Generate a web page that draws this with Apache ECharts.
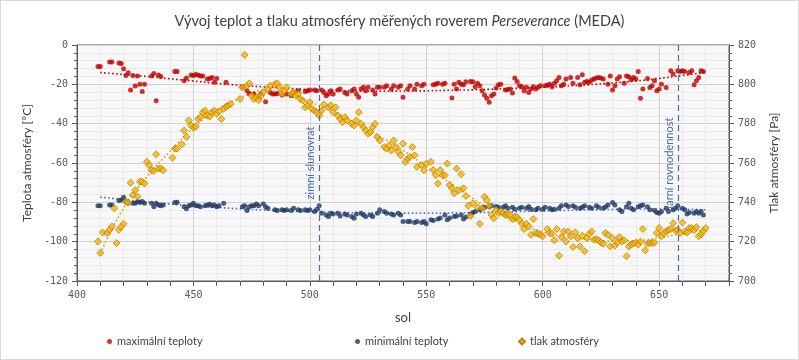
<!DOCTYPE html>
<html><head><meta charset="utf-8">
<script src="https://cdn.jsdelivr.net/npm/echarts@6/dist/echarts.min.js"></script>
<style>html,body{margin:0;padding:0;background:#fff}#c{width:799px;height:360px;box-sizing:border-box;border:1px solid #d9d9d9}</style>
</head><body><div id="c"></div>
<script>
const maxTemps=[[409,-10.9],[410,-10.9],[414,-8.6],[415,-8.6],[418,-9.1],[419,-9.4],[420,-12.1],[421,-15.5],[422,-14.1],[423,-22.9],[424,-15.5],[425,-20.9],[426,-15.7],[427,-19.9],[428,-23.6],[429,-19.9],[432,-15.7],[433,-14.5],[434,-28.4],[435,-15.3],[436,-16],[442,-13.5],[443,-13.5],[446,-18.2],[447,-16.8],[449,-15.2],[450,-15.5],[451,-15],[452,-15.3],[453,-15.7],[454,-15.8],[456,-17.3],[457,-17],[458,-16.5],[459,-19],[460,-17],[464,-19],
[471,-21.5],[473,-23.2],[474,-24.6],[476,-24.9],[478,-26.6],[479,-24.6],[481,-28.8],[483,-24.1],[484,-24.9],[485,-24.9],[486,-24.6],[488,-25.4],[490,-24.9],[492,-25.8],[493,-24.1],[495,-23.2],[498,-23.6],[499,-23.2],[500,-22.9],[502,-22.9],[503,-23.2],[505,-22.9],[506,-24.1],[507,-25.8],[508,-24.9],[509,-23.2],[510,-24.9],[512,-22.9],[513,-22.4],[515,-24.1],[516,-24.9],[518,-23.2],[519,-22.4],[520,-24.9],[521,-26.6],[522,-22.4],[523,-21.5],[524,-23.2],[525,-21.5],[527,-22.9],[528,-24.9],[529,-21.5],[530,-21.5],[532,-21.5],[533,-20.7],[535,-22.4],[536,-20.7],[538,-21.5],[539,-20.7],[540,-26.6],[542,-22.4],[543,-20.7],[545,-22.4],[546,-19.9],[548,-20.7],[549,-19.9],
[553,-20.2],[554,-19.9],[555,-19.5],[557,-19.9],[558,-19.5],[561,-26.9],[562,-19.9],[563,-22.4],[564,-19],[565,-19.9],[566,-20.2],[567,-18.7],[569,-18.5],[570,-18.7],[571,-21.2],[572,-19.4],[573,-20.7],[574,-23.2],[575,-25.4],[576,-27.1],[577,-29.1],[578,-25.8],[579,-24.9],[580,-21.9],[581,-20.2],[582,-19.9],[584,-22.9],[585,-22.6],[586,-22.4],[587,-24.4],[588,-16.8],[589,-18.5],[590,-20.7],[591,-21.2],[592,-23.2],[593,-21.5],[594,-24.1],[595,-22.4],[596,-21.2],[597,-22.4],[598,-21.5],[599,-20.7],[601,-20.7],[602,-20.4],[603,-19.9],[604,-21.2],[605,-19.5],[606,-18.2],[607,-16.5],[608,-20.7],[609,-19.9],[610,-17.3],[612,-16.5],[613,-19.5],[615,-16.5],[616,-20.2],[617,-15.1],[618,-19],[619,-18.5],[620,-19],[621,-17.8],[622,-17.3],[623,-16.8],[624,-16.5],[625,-16.8],[626,-17.3],[628,-19.9],[629,-15.7],[630,-22.9],[631,-20.7],[632,-17.3],[633,-16.2],[635,-19.5],[636,-15.7],[637,-16.2],[638,-17.7],[639,-16.5],[640,-17.3],[641,-13.5],[642,-27.1],[643,-22.4],[645,-17],[646,-21.6],[647,-20.7],[648,-18.2],[649,-23.2],[650,-22.4],[651,-19.9],[653,-21.6],[655,-13.1],[656,-14.8],[658,-13.1],[659,-13.5],[660,-13.1],[661,-13.5],[663,-14],[664,-13.1],[665,-20.2],[666,-18.2],[667,-16.5],[668,-13.1],[669,-13.5]];

const minTemps=[[409,-81.8],[410,-81.8],[414,-81.3],[415,-81.3],[418,-79.1],[419,-78.8],[420,-77.4],[421,-79.6],[422,-80.1],[424,-80.5],[425,-80.5],[426,-79.6],[427,-80.1],[428,-79.6],[429,-80.5],[432,-80.5],[433,-82.2],[434,-80.5],[435,-81.3],[436,-81.8],[437,-81.3],[442,-80.1],[443,-80],[446,-82.2],[447,-83.3],[448,-81.8],[449,-81.3],[450,-80.5],[451,-81.7],[452,-81.7],[453,-82.2],[455,-81.8],[456,-81.3],[457,-81],[458,-81.7],[459,-81.3],[460,-82.2],[461,-81.8],[463,-80.5],
[471,-82.2],[472,-81.8],[473,-84.2],[474,-82.2],[475,-81.8],[476,-81.8],[477,-80.8],[478,-81.8],[480,-80.8],[481,-82.2],[482,-83],[485,-83.8],[486,-84.2],[488,-83.8],[489,-84.2],[490,-83.8],[492,-84.2],[493,-83],[495,-83.8],[496,-84.2],[498,-83.8],[499,-84.2],[500,-83.8],[502,-84.7],[503,-83.5],[504,-81.8],[505,-85.5],[507,-86.4],[508,-87.2],[509,-85.5],[510,-85.9],[512,-85.5],[513,-86.9],[515,-85.9],[516,-86.4],[518,-87.2],[519,-88.1],[520,-85.9],[522,-85.5],[523,-86.4],[524,-87.2],[526,-86.4],[527,-87.2],[529,-85.5],[530,-83.8],[532,-84.7],[533,-85.5],[535,-85.9],[536,-86.4],[538,-85.5],[539,-86.4],[540,-89.7],[542,-89.7],[543,-89.7],[545,-90.2],[546,-89.7],[548,-90.2],[549,-89.7],[550,-90.9],
[552,-88.9],[553,-89.2],[555,-88.5],[556,-88],[558,-86.4],[559,-88.9],[560,-88],[562,-87.2],[563,-86.9],[565,-86.4],[566,-88.5],[567,-87.5],[569,-86],[570,-85.2],[571,-84.7],[573,-83.8],[574,-83],[575,-82.5],[577,-82.1],[578,-81.8],[580,-82.1],[581,-82.5],[583,-82.5],[584,-81.8],[585,-83],[587,-82.5],[588,-83.5],[590,-83],[591,-82.5],[593,-83],[594,-82.1],[595,-83.5],[597,-83.8],[598,-83],[600,-83.5],[601,-82.5],[603,-83],[604,-83.8],[605,-83.5],[607,-83],[608,-81.8],[610,-81.3],[611,-82.1],[613,-81.8],[614,-82.5],[616,-83],[617,-82.5],[618,-81.8],[620,-82.5],[621,-83],[623,-81.8],[624,-82.5],
[626,-83],[627,-82.2],[628,-81.3],[630,-80.1],[631,-81.3],[633,-83.8],[634,-84.7],[636,-82.2],[637,-80.5],[638,-83],[639,-83.8],[641,-82.2],[642,-81.8],[643,-81.3],[645,-82.2],[646,-83.8],[648,-84.2],[649,-85.2],[650,-85.5],[651,-84.7],[653,-83],[654,-84.7],[656,-83.8],[657,-83],[658,-81.8],[660,-83],[661,-83.8],[662,-85.9],[663,-85.2],[665,-85.5],[666,-84.7],[667,-85.5],[668,-84.7],[669,-86.4]];

const pressure=[[409,720.1],[410,714.3],[411,724.7],[413,724.4],[414,726],[415,727.7],[416,737],[417,719.3],[418,726],[419,727.7],[420,729.1],[421,740.4],[422,739.8],[423,749.9],[424,743.7],[425,746.2],[426,742.9],[427,750.5],[428,750.5],[429,749.6],[430,760.6],[431,758.9],[432,756.3],[433,756],[434,764.4],[435,757.2],[436,757.2],[437,756.3],[441,762.7],[442,767.3],[443,767.3],[445,769.5],[446,776.5],[447,773.2],[448,781.6],[449,779.1],[450,777.9],[451,778.6],[452,782.4],[453,783.3],[454,785.8],[455,786.6],[456,784.1],[457,783.6],[458,785.8],[459,786.6],[460,785],[461,786.3],[462,782.4],[463,787.5],[464,788.7],[465,789.2],[466,790],[470,792.5],[471,798.4],[472,814.9],[473,799.3],[474,800.5],[475,794.2],[476,792.5],[477,793.4],[478,792],[479,794.2],[480,796],
[482,797.6],[483,799.3],[485,800.1],[486,800.5],[487,798.4],[488,795.1],[489,796.7],[490,798.4],[492,795.1],[493,795.9],[494,794.2],[495,795.1],[496,792.5],[497,791.7],[498,788.3],[499,789.2],[500,790.9],[501,787.5],[502,786.6],[503,785.8],[504,784.1],[505,786.6],[506,789.7],[508,788.3],[509,789.2],[510,785.8],[511,788.3],[512,784.1],[513,782.4],[514,780.8],[515,783.3],[516,781.6],[518,779.9],[519,779.1],[520,781.6],[521,785.8],[522,779.9],[523,778.2],[524,776.5],[525,774.9],[526,775.7],[527,778.2],[528,779.9],[529,773.2],[530,771.5],[532,768.1],[533,767.3],[534,769],[535,766.4],[536,771.5],[537,768.1],[538,765.6],[539,763.9],[540,769.8],[541,760.6],[542,762.2],[543,763.1],[544,768.1],[545,763.9],[546,758],[548,758.9],[549,756.3],[550,759.7],
[552,760.6],[553,756.4],[554,753.8],[555,749.6],[556,756.4],[557,753.8],[558,753.8],[559,759.7],[560,748.8],[561,747.1],[562,744.6],[563,757.2],[564,746.2],[565,754.3],[566,747.1],[567,743.2],[568,738.2],[569,733.1],[570,739.5],[572,737.5],[573,729.1],[574,737],[575,742.9],[576,741.2],[577,738.2],[578,733.6],[579,731.9],[580,736.1],[581,734.5],[582,735.3],[583,734.5],[584,733.6],[585,734.1],[586,733.6],[587,731.4],[588,732.8],[589,732.4],[590,731.1],[591,729.1],[592,726.4],[593,729.1],[594,727.7],[595,723.5],[596,731.4],[597,724.4],[598,724],[599,723.5],[600,722.7],[602,726.4],[603,724.4],[604,724],[605,720.7],[606,726.4],[607,712.9],[608,722.3],[609,725.2],[610,720.1],[611,725.2],[612,722.7],[613,717.3],[614,724.7],[615,721.8],[616,717.6],[617,723],[618,715.1],[619,721.8],[620,724],[621,725.2],[622,721],[623,721.3],[624,720.7],[625,719.6],[626,719],[627,724.4],[628,723.5],[629,717.6],[630,721.8],[631,718],[632,719.6],[633,722.3],[634,720.1],[635,720.7],[636,712.6],[637,717.6],[638,718.5],
[639,719],[640,719.6],[641,718.5],[642,720.1],[643,726.4],[644,715.6],[645,719],[646,719.3],[647,719.3],[648,719.6],[649,724.4],[650,726.9],[651,722.7],[652,724.4],[653,725.2],[654,726],[655,726.4],[656,729.4],[657,725.7],[658,726],[659,724.4],[660,729.7],[661,725.2],[662,724.7],[663,726.9],[664,726.9],[665,726],[666,727.4],[667,722.7],[668,723.7],[669,725.4],[670,726.9]];

const trendSols=[410,420,430,440,450,460,470,480,490,500,510,520,530,540,550,560,570,580,590,600,610,620,630,640,650,660,670];
const maxTrend=[-14,-15,-16,-17.2,-18.3,-19.5,-20.5,-21.3,-22,-22.7,-23.2,-23.4,-23.5,-23.4,-23.3,-23,-22.8,-22.4,-22,-21.5,-20.9,-20.2,-19.3,-18.3,-17,-15.5,-13.8];
const minTrend=[-77.3,-78.6,-79.8,-80.9,-81.8,-82.6,-83.3,-83.9,-84.4,-84.8,-85.1,-85.3,-85.5,-85.5,-85.5,-85.4,-85.2,-85,-84.7,-84.4,-84.1,-83.8,-83.6,-83.4,-83.4,-83.5,-83.8];
const presTrend=[714,737,753,766,778,787,793,797,795.5,791,786,780,773.5,766.5,758,750,742,735,729.5,725,722.5,721,720.3,720.5,722,724,726];

const seasonSols=[504,658];
const seasonLabels=['zimní slunovrat','jarní rovnodennost'];
const seriesNames=['maximální teploty','minimální teploty','tlak atmosféry'];

const zip=(xs,ys)=>xs.map((x,i)=>[x,ys[i]]);
const txt='#404040', lab='#595959', FONT='Lato';
const chart=echarts.init(document.getElementById('c'),null,{renderer:'canvas'});
const yCommon={
  axisLine:{show:true,lineStyle:{color:'#595959',width:1}},
  axisTick:{show:true,length:5,lineStyle:{color:'#595959'}},
  minorTick:{show:true,splitNumber:5,length:3,lineStyle:{color:'#595959'}},
  axisLabel:{fontFamily:'DejaVu Sans Mono',fontSize:10,color:lab,margin:9},
  nameLocation:'middle',
  nameTextStyle:{fontFamily:FONT,fontSize:12,color:txt}
};
chart.setOption({
  animation:false,
  title:{left:'center',top:8,text:'{a|Vývoj teplot a tlaku atmosféry měřených roverem }{i|Perseverance}{a| (MEDA)}',
    textStyle:{fontWeight:'normal',rich:{a:{fontFamily:FONT,fontSize:14.5,color:txt,fontWeight:'normal'},i:{fontFamily:FONT,fontSize:14.5,color:txt,fontStyle:'italic',fontWeight:'normal'}}}},
  grid:{left:76,right:69,top:44,bottom:78,show:true,backgroundColor:'#f8f8f8',borderColor:'#595959',borderWidth:1},
  legend:[
    {data:[{name:seriesNames[0],icon:'circle'}],left:101,top:330,itemWidth:5,itemHeight:5,textStyle:{fontFamily:FONT,fontSize:11,color:txt},itemGap:5},
    {data:[{name:seriesNames[1],icon:'circle'}],left:349,top:330,itemWidth:5,itemHeight:5,textStyle:{fontFamily:FONT,fontSize:11,color:txt}},
    {data:[{name:seriesNames[2],icon:'diamond'}],left:512,top:330,itemWidth:6,itemHeight:6,textStyle:{fontFamily:FONT,fontSize:11,color:txt}}
  ],
  xAxis:{type:'value',min:400,max:680,interval:50,name:'sol',nameLocation:'middle',nameGap:30,
    nameTextStyle:{fontFamily:FONT,fontSize:13,color:txt},
    axisLine:{show:true,onZero:false,lineStyle:{color:'#595959'}},
    axisTick:{show:true,length:5,lineStyle:{color:'#595959'}},
    minorTick:{show:true,splitNumber:5,length:5,lineStyle:{color:'#595959'}},
    axisLabel:{fontFamily:'DejaVu Sans Mono',fontSize:10,color:lab,margin:9,
      formatter:v=>v>=680?'':String(v)},
    splitLine:{show:true,lineStyle:{color:'#d0d0d0'}},
    minorSplitLine:{show:true,lineStyle:{color:'#ebebeb'}}},
  yAxis:[
    Object.assign({type:'value',min:-120,max:0,interval:20,name:'Teplota atmosféry [°C]',nameGap:43,
      splitLine:{show:true,lineStyle:{color:'#d0d0d0'}},minorSplitLine:{show:true,lineStyle:{color:'#ebebeb'}}},yCommon),
    Object.assign({type:'value',min:700,max:820,interval:20,name:'Tlak atmosféry [Pa]',nameGap:39,position:'right',
      splitLine:{show:false}},yCommon)
  ],
  series:[
    {name:seriesNames[0],type:'scatter',data:maxTemps,symbol:'circle',symbolSize:5,itemStyle:{color:'#c00000'},z:3},
    {name:seriesNames[1],type:'scatter',data:minTemps,symbol:'circle',symbolSize:5,itemStyle:{color:'#203864'},z:3},
    {name:seriesNames[2],type:'scatter',yAxisIndex:1,data:pressure,symbol:'diamond',symbolSize:7,
      itemStyle:{color:'#f5b400',borderColor:'#a86f00',borderWidth:0.8},z:4},
    {name:'trend-max',type:'line',data:zip(trendSols,maxTrend),smooth:true,symbol:'none',silent:true,
      lineStyle:{color:'#c00000',width:1.6,type:[1.6,2.4]},z:2},
    {name:'trend-min',type:'line',data:zip(trendSols,minTrend),smooth:true,symbol:'none',silent:true,
      lineStyle:{color:'#4472c4',width:1.6,type:[1.6,2.4]},z:2},
    {name:'trend-p',type:'line',yAxisIndex:1,data:zip(trendSols,presTrend),smooth:true,symbol:'none',silent:true,
      lineStyle:{color:'#d9a000',width:1.6,type:[1.6,2.4]},z:2,
      markLine:{silent:true,symbol:'none',animation:false,
        lineStyle:{color:'#4a6ea9',width:1.2,type:[6,4]},
        label:{show:true,position:'insideMiddleTop',distance:3,fontFamily:FONT,fontSize:11,color:'#4a6ea9',
          formatter:p=>seasonLabels[seasonSols.indexOf(p.value)]},
        data:seasonSols.map(s=>({xAxis:s}))}}
  ]
});
</script></body></html>
